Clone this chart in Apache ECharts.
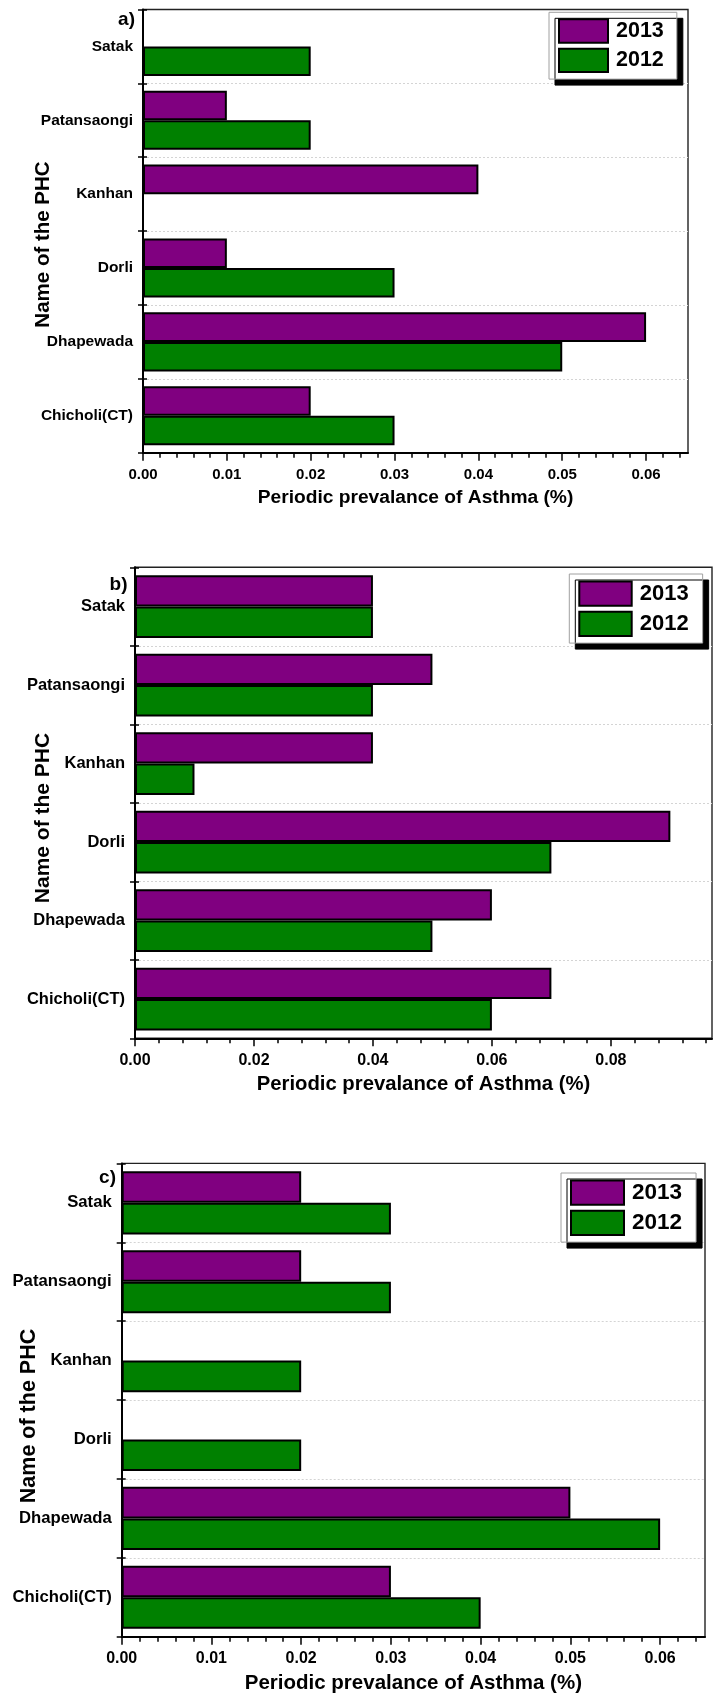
<!DOCTYPE html>
<html>
<head>
<meta charset="utf-8">
<script src="https://cdn.jsdelivr.net/npm/echarts@6/dist/echarts.min.js"></script>
<style>
html, body { margin: 0; padding: 0; background: #fff; }
#chart { width: 715px; height: 1696px; }
</style>
</head>
<body>
<div id="chart"></div>
<script>
// Primary health centres, listed bottom to top on the category axis
const categories = ['Chicholi(CT)', 'Dhapewada', 'Dorli', 'Kanhan', 'Patansaongi', 'Satak'];
const years = ['2013', '2012'];

// Periodic prevalence of asthma (%) per PHC; null = no bar
const a2013 = [0.02, 0.06, 0.01, 0.04, 0.01, null];
const a2012 = [0.03, 0.05, 0.03, null, 0.02, 0.02];

const b2013 = [0.07, 0.06, 0.09, 0.04, 0.05, 0.04];
const b2012 = [0.06, 0.05, 0.07, 0.01, 0.04, 0.04];

const c2013 = [0.03, 0.05, null, null, 0.02, 0.02];
const c2012 = [0.04, 0.06, 0.02, 0.02, 0.03, 0.03];

// Labelled ticks of each value axis
const ticksA = [0.00, 0.01, 0.02, 0.03, 0.04, 0.05, 0.06];
const ticksB = [0.00, 0.02, 0.04, 0.06, 0.08];
const ticksC = [0.00, 0.01, 0.02, 0.03, 0.04, 0.05, 0.06];

const panelLabels = ['a)', 'b)', 'c)'];
const xTitle = 'Periodic prevalance of Asthma (%)';
const yTitle = 'Name of the PHC';

const FONT = '"Liberation Sans", Arial, Helvetica, sans-serif';
const PURPLE = '#800080';
const GREEN = '#008000';

// Layout and styling of the three stacked panels
const panels = [
  {
    label: panelLabels[0], s2013: a2013, s2012: a2012, ticks: ticksA, max: 0.065, minorStep: 0.002,
    grid: { left: 143, top: 9.5, width: 545, height: 443.2 },
    fs: { cat: 15.5, tick: 15, title: 19.2, ytitle: 20.5, legend: 21.5, letter: 19 },
    labelMargin: 15, nameGap: 36,
    legend: { left: 549, top: 12.3, w: 49, h: 23.4, pad: [6, 13, 6, 9] },
    yTitlePos: [43, 244.5], letterPos: [135, 20]
  },
  {
    label: panelLabels[1], s2013: b2013, s2012: b2012, ticks: ticksB, max: 0.097, minorStep: 0.004,
    grid: { left: 135, top: 567.3, width: 577, height: 471 },
    fs: { cat: 16.5, tick: 16, title: 20.3, ytitle: 21, legend: 22, letter: 19 },
    labelMargin: 14, nameGap: 36,
    legend: { left: 569.3, top: 574, w: 52.4, h: 24.3, pad: [6.5, 14, 6, 9] },
    yTitlePos: [43, 818], letterPos: [127.5, 585]
  },
  {
    label: panelLabels[2], s2013: c2013, s2012: c2012, ticks: ticksC, max: 0.065, minorStep: 0.002,
    grid: { left: 121.7, top: 1163.4, width: 583.3, height: 473.3 },
    fs: { cat: 16.7, tick: 16, title: 20.5, ytitle: 21.5, legend: 22.5, letter: 19 },
    labelMargin: 14, nameGap: 36,
    legend: { left: 561, top: 1173, w: 53, h: 24.3, pad: [6.5, 14, 6, 9] },
    yTitlePos: [29, 1416], letterPos: [116, 1178]
  }
];

function minorTicks(max, step, majors) {
  const out = [];
  for (let k = 0; k * step <= max + 1e-9; k++) {
    const v = +(k * step).toFixed(6);
    if (!majors.some(m => Math.abs(m - v) < 1e-9)) out.push(v);
  }
  return out;
}

const grid = [], xAxis = [], yAxis = [], series = [], legend = [], graphic = [];

panels.forEach((p, i) => {
  grid.push(Object.assign({ show: true, borderColor: '#222', borderWidth: 1.4, containLabel: false }, p.grid));

  // value axis: labelled major ticks and the axis title
  xAxis.push({
    gridIndex: i, type: 'value', position: 'bottom', min: 0, max: p.max,
    axisLine: { show: true, lineStyle: { color: '#000', width: 2 } },
    axisTick: { show: true, length: 8, lineStyle: { color: '#000', width: 1.5 }, customValues: p.ticks },
    axisLabel: {
      show: true, customValues: p.ticks, margin: p.labelMargin,
      formatter: v => Number(v).toFixed(2),
      color: '#000', fontFamily: FONT, fontWeight: 'bold', fontSize: p.fs.tick
    },
    splitLine: { show: false },
    name: xTitle, nameLocation: 'middle', nameGap: p.nameGap,
    nameTextStyle: { color: '#000', fontFamily: FONT, fontWeight: 'bold', fontSize: p.fs.title }
  });
  // value axis: minor ticks only
  xAxis.push({
    gridIndex: i, type: 'value', position: 'bottom', min: 0, max: p.max,
    axisLine: { show: false },
    axisTick: { show: true, length: 5, lineStyle: { color: '#000', width: 1.5 }, customValues: minorTicks(p.max, p.minorStep, p.ticks) },
    axisLabel: { show: false },
    splitLine: { show: false }
  });

  // category axis with outward ticks, names and dotted separators
  yAxis.push({
    gridIndex: i, type: 'category', position: 'left', data: categories,
    axisLine: { show: true, lineStyle: { color: '#000', width: 2 } },
    axisTick: { show: true, length: 5, lineStyle: { color: '#000', width: 1.5 } },
    axisLabel: { margin: 10, color: '#000', fontFamily: FONT, fontWeight: 'bold', fontSize: p.fs.cat },
    splitLine: { show: true, showMinLine: false, showMaxLine: false, lineStyle: { color: '#d4d4d4', width: 1, type: [2, 2] } }
  });
  // inward half of the category ticks
  yAxis.push({
    gridIndex: i, type: 'category', position: 'left', data: categories,
    axisLine: { show: false },
    axisTick: { show: true, inside: true, length: 4, lineStyle: { color: '#000', width: 1.5 } },
    axisLabel: { show: false },
    splitLine: { show: false }
  });

  [[years[0], p.s2013, PURPLE], [years[1], p.s2012, GREEN]].forEach(([name, data, color]) => {
    series.push({
      type: 'bar', name, data,
      xAxisIndex: i * 2, yAxisIndex: i * 2,
      barGap: '0%', barCategoryGap: '20%',
      itemStyle: { color, borderColor: '#000', borderWidth: 2 },
      emphasis: { disabled: true },
      animation: false
    });
  });

  legend.push({
    data: years, orient: 'vertical', left: p.legend.left, top: p.legend.top,
    padding: p.legend.pad, itemWidth: p.legend.w, itemHeight: p.legend.h, itemGap: 4,
    icon: 'rect', selectedMode: false,
    backgroundColor: '#fff', borderColor: '#a0a0a0', borderWidth: 1, borderRadius: 0,
    shadowColor: '#000', shadowBlur: 0, shadowOffsetX: 6, shadowOffsetY: 6,
    itemStyle: { borderColor: '#000', borderWidth: 2 },
    textStyle: { color: '#000', fontFamily: FONT, fontWeight: 'bold', fontSize: p.fs.legend, padding: [0, 0, 0, 3], lineHeight: p.legend.h }
  });

  graphic.push({
    type: 'text', x: p.letterPos[0], y: p.letterPos[1],
    style: { text: p.label, align: 'right', verticalAlign: 'middle', fill: '#000', font: `bold ${p.fs.letter}px ${FONT}` }
  });
  graphic.push({
    type: 'text', x: p.yTitlePos[0], y: p.yTitlePos[1], rotation: Math.PI / 2,
    style: { text: yTitle, align: 'center', verticalAlign: 'middle', fill: '#000', font: `bold ${p.fs.ytitle}px ${FONT}` }
  });
});

const chart = echarts.init(document.getElementById('chart'), null, { renderer: 'canvas' });
chart.setOption({
  backgroundColor: '#fff',
  animation: false,
  grid, xAxis, yAxis, series, legend, graphic
});
</script>
</body>
</html>
